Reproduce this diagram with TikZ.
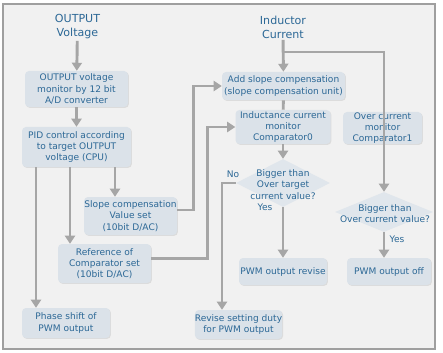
\documentclass[tikz,border=0pt]{standalone}
\usepackage{fontspec}
\setmainfont{DejaVu Sans}
\usetikzlibrary{shapes.geometric, shadows, arrows.meta}

\definecolor{bluetxt}{HTML}{2C6896}
\definecolor{boxfill}{HTML}{DBE2E9}
\definecolor{linegray}{HTML}{A6A6A6}
\definecolor{bggray}{HTML}{F1F1F1}
\newcommand{\upx}{0.75pt}

\tikzset{
  stepbox/.style={fill=boxfill, rounded corners=3pt, text=bluetxt, align=center,
    inner sep=0pt, font=\fontsize{6.8}{8.5}\selectfont,
    drop shadow={opacity=0.18, shadow xshift=0.7pt, shadow yshift=-0.7pt}},
  title/.style={text=bluetxt, align=center, inner sep=1pt, font=\fontsize{8.3}{10.5}\selectfont},
  decision/.style={diamond, fill=boxfill!85!white, inner sep=0pt},
  dtext/.style={text=bluetxt, align=center, inner sep=0pt, font=\fontsize{6.8}{8.5}\selectfont},
  flow/.style={draw=linegray, line width=2.2pt},
}

\begin{document}
\begin{tikzpicture}[x=0.75pt, y=-0.75pt, >={Triangle[length=6pt, width=7.5pt]}]
  \useasboundingbox (0,0) rectangle (443,353);
  \fill[white] (0,0) rectangle (443,353);
  \draw[gray!75, fill=bggray, line width=0.8pt] (3,4) rectangle (435,349);

  % left column
  \node[title] (ovt) at (77.5,27) {OUTPUT\\Voltage};
  \node[stepbox, minimum width=103*\upx, minimum height=36*\upx] (adc) at (76.5,89)
    {OUTPUT voltage\\monitor by 12 bit\\A/D converter};
  \node[stepbox, minimum width=109*\upx, minimum height=40*\upx] (pid) at (76.5,147)
    {PID control according\\to target OUTPUT\\voltage (CPU)};
  \node[stepbox, minimum width=93*\upx, minimum height=38*\upx] (slope) at (130.5,216)
    {Slope compensation\\Value set\\(10bit D/AC)};
  \node[stepbox, minimum width=93*\upx, minimum height=39*\upx] (ref) at (104.5,263.5)
    {Reference of\\Comparator set\\(10bit D/AC)};
  \node[stepbox, minimum width=88*\upx, minimum height=30*\upx] (phase) at (66,323)
    {Phase shift of\\PWM output};

  % right part
  \node[title] (cur) at (283,27) {Inductor\\Current};
  \node[stepbox, minimum width=123*\upx, minimum height=28*\upx] (add) at (283.5,86)
    {Add slope compensation\\(slope compensation unit)};
  \node[stepbox, minimum width=95*\upx, minimum height=34*\upx] (ind) at (283,127)
    {Inductance current\\monitor\\Comparator0};
  \node[stepbox, minimum width=79*\upx, minimum height=32*\upx] (over) at (382.5,128)
    {Over current\\monitor\\Comparator1};
  \node[decision, minimum width=94*\upx, minimum height=48*\upx] (d1) at (283,183) {};
  \node[dtext] (d1t) at (283,184.5) {Bigger than\\Over target\\current value?};
  \node[decision, minimum width=98*\upx, minimum height=40*\upx] (d2) at (384,212) {};
  \node[dtext] (d2t) at (385,213.5) {Bigger than\\Over current value?};
  \node[stepbox, minimum width=88*\upx, minimum height=27*\upx] (rvs) at (283,271.5)
    {PWM output revise};
  \node[stepbox, minimum width=84*\upx, minimum height=27*\upx] (off) at (389,271.5)
    {PWM output off};
  \node[stepbox, minimum width=87*\upx, minimum height=29*\upx] (rev) at (238.5,324.5)
    {Revise setting duty\\for PWM output};

  \node[dtext] (no) at (233,174) {No};
  \node[dtext] (yes1) at (265,207) {Yes};
  \node[dtext] (yes2) at (397,239) {Yes};

  % drop points
  \coordinate (x1) at (36,0);
  \coordinate (x2) at (70,0);
  \coordinate (x3) at (115,0);
  \coordinate (x4) at (222,0);
  \coordinate (br) at (283,52);

  \draw[flow,->] (ovt) -- (adc);
  \draw[flow,->] (adc) -- (pid);
  \draw[flow,->] (pid.south -| x1) -- (phase.north -| x1);
  \draw[flow,->] (pid.south -| x2) -- (ref.north -| x2);
  \draw[flow,->] (pid.south -| x3) -- (slope.north -| x3);
  \draw[flow,->] ([yshift=4.5pt]slope.east) -- ++(16,0) |- (add.west);
  \draw[flow,->] ([yshift=4pt]ref.east) -- ++(56,0) |- (ind.west);

  \draw[flow,->] (cur) -- (add);
  \draw[flow,->] (br) -| (d2.north);
  \draw[flow] (add) -- (ind);
  \draw[flow,->] (ind) -- (d1);
  \draw[flow,->] (d1.west) -| (rev.north -| x4);
  \draw[flow,->] (d1.south) -- (rvs);
  \draw[flow,->] (d2.south) -- (off.north -| d2.south);
\end{tikzpicture}
\end{document}
